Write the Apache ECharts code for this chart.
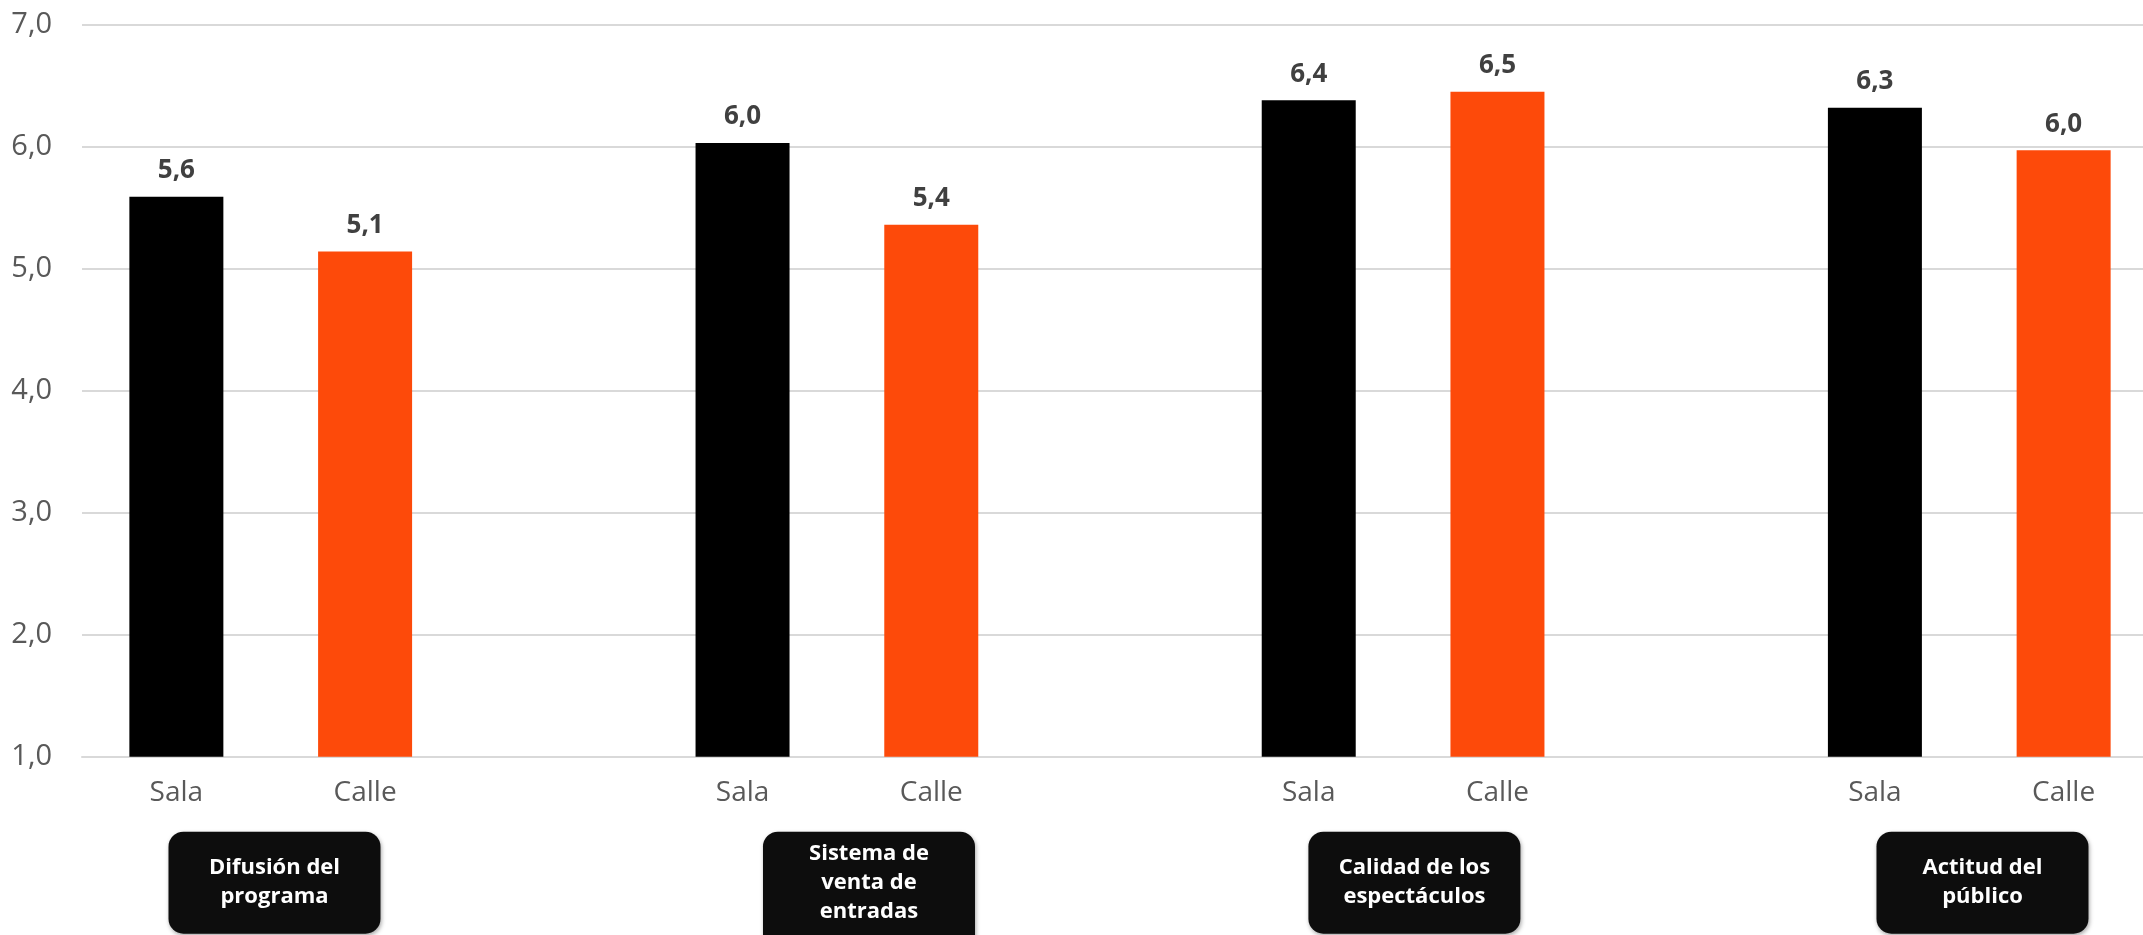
<!DOCTYPE html>
<html>
<head>
<meta charset="utf-8">
<script src="https://cdn.jsdelivr.net/npm/echarts@6/dist/echarts.min.js"></script>
<style>
html,body{margin:0;padding:0;background:#fff;}
#chart{width:2143px;height:935px;}
</style>
</head>
<body>
<div id="chart"></div>
<script>
// ---- data ----
const groups = ['Difusión del\nprograma', 'Sistema de\nventa de\nentradas', 'Calidad de los\nespectáculos', 'Actitud del\npúblico'];
const seriesNames = ['Sala', 'Calle'];
const salaValues = [5.59, 6.03, 6.38, 6.32];
const calleValues = [5.14, 5.36, 6.45, 5.97];
const yTickLabels = ['1,0', '2,0', '3,0', '4,0', '5,0', '6,0', '7,0'];

// ---- build category slots: Sala, Calle, gap, ... ----
const categories = [];
const salaData = [];
const calleData = [];
groups.forEach((g, i) => {
  categories.push(seriesNames[0]); salaData.push(salaValues[i]); calleData.push('-');
  categories.push(seriesNames[1]); salaData.push('-'); calleData.push(calleValues[i]);
  if (i < groups.length - 1) { categories.push(''); salaData.push('-'); calleData.push('-'); }
});

const FONT = '"Open Sans", "Liberation Sans", sans-serif';
const fmt = v => v.toFixed(1).replace('.', ',');
const groupPos = [1.02, 4.17, 7.06, 10.07];

const chart = echarts.init(document.getElementById('chart'), null, {renderer: 'canvas'});
const labelStyle = {
  show: true, position: 'top', distance: 13,
  color: '#404040', fontSize: 26, fontWeight: 'bold', fontFamily: FONT,
  formatter: p => fmt(p.value)
};
chart.setOption({
  animation: false,
  backgroundColor: '#ffffff',
  grid: {left: 82, right: -15, top: 24.7, bottom: 178.3, containLabel: false, outerBoundsMode: 'none'},
  xAxis: [{
    type: 'category',
    data: categories,
    axisLine: {show: true, lineStyle: {color: '#d9d9d9', width: 2}},
    axisTick: {show: false},
    axisLabel: {interval: 0, color: '#595959', fontSize: 28, fontFamily: FONT, margin: 22}
  }, {
    type: 'value',
    position: 'bottom',
    min: 0, max: categories.length,
    axisLine: {show: false}, axisTick: {show: false}, splitLine: {show: false},
    axisLabel: {
      customValues: groupPos,
      margin: 75,
      width: 212,
      backgroundColor: '#0d0d0d',
      borderRadius: 15,
      padding: [8, 0, 22, 0],
      shadowBlur: 4, shadowColor: 'rgba(0,0,0,0.35)', shadowOffsetX: 1, shadowOffsetY: 2,
      formatter: v => {
        const idx = groupPos.indexOf(v);
        if (idx < 0) return '';
        const lines = groups[idx].split('\n');
        const sp = lines.length >= 3 ? '' : '{s| }\n';
        return sp + lines.map(l => '{b|' + l + '}').join('\n');
      },
      rich: {
        s: {fontSize: 8, lineHeight: 14},
        b: {color: '#ffffff', fontSize: 22, fontWeight: 'bold', fontFamily: FONT, lineHeight: 29, align: 'center'}
      }
    }
  }],
  yAxis: {
    type: 'value', min: 1, max: 7, interval: 1,
    axisLine: {show: false}, axisTick: {show: false},
    splitLine: {lineStyle: {color: '#d9d9d9', width: 2}},
    axisLabel: {
      color: '#595959', fontSize: 29, fontFamily: FONT, margin: 30,
      formatter: v => yTickLabels[Math.round(v) - 1]
    }
  },
  series: [{
    name: seriesNames[0], type: 'bar', data: salaData,
    barWidth: 94, barGap: '-100%',
    itemStyle: {color: '#000000'},
    label: labelStyle
  }, {
    name: seriesNames[1], type: 'bar', data: calleData,
    barWidth: 94, barGap: '-100%',
    itemStyle: {color: '#fd4a0a'},
    label: labelStyle
  }]
});
</script>
</body>
</html>
